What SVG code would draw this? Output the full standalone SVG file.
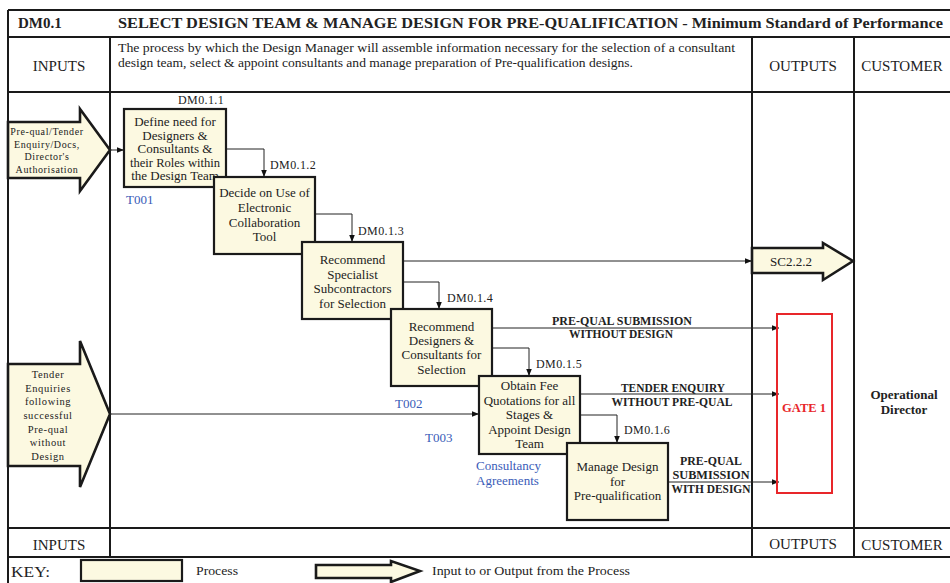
<svg xmlns="http://www.w3.org/2000/svg" width="950" height="583" viewBox="0 0 950 583">
  <defs>
    <marker id="ah" viewBox="0 0 10 10" refX="10" refY="5" markerWidth="7" markerHeight="7" markerUnits="userSpaceOnUse" orient="auto">
      <path d="M0,1 L10,5 L0,9 Z" fill="#111"/>
    </marker>
    <style>
      .frame { fill: none; stroke: #1a1a1a; stroke-width: 2; }
      .proc { fill: #fcf9e1; stroke: #1a1a1a; stroke-width: 2.2; }
      .io { fill: #fcf9e1; stroke: #1a1a1a; stroke-width: 2.6; stroke-linejoin: miter; }
      .conn { fill: none; stroke: #222; stroke-width: 1; marker-end: url(#ah); }
      .t { font-family: "Liberation Serif", "Times New Roman", serif; fill: #222; }
      .hdr { font-size: 15px; }
      .ptext { font-size: 13px; text-anchor: middle; }
      .id { font-size: 12px; letter-spacing: 0.4px; }
      .blue { font-size: 13px; fill: #3a5cb8; }
      .flow { font-size: 11.5px; font-weight: bold; text-anchor: middle; }
      .iotext { font-size: 10px; letter-spacing: 0.6px; text-anchor: middle; }
      .iotext2 { font-size: 10.5px; letter-spacing: 0.6px; text-anchor: middle; }
    </style>
  </defs>

  <rect width="950" height="583" fill="#ffffff"/>

  <!-- table frame -->
  <g id="frame">
    <line class="frame" x1="8" y1="10" x2="950" y2="10"/>
    <line class="frame" x1="8" y1="37" x2="950" y2="37"/>
    <line class="frame" x1="8" y1="92" x2="950" y2="92"/>
    <line class="frame" x1="8" y1="528" x2="950" y2="528"/>
    <line class="frame" x1="8" y1="557" x2="950" y2="557"/>
    <line class="frame" x1="8" y1="10" x2="8" y2="583"/>
    <line class="frame" x1="110" y1="37" x2="110" y2="557"/>
    <line class="frame" x1="752" y1="37" x2="752" y2="557"/>
    <line class="frame" x1="854" y1="37" x2="854" y2="557"/>
  </g>

  <!-- title and headers -->
  <g id="header">
    <text class="t" x="18" y="28" font-size="15" font-weight="bold">DM0.1</text>
    <text class="t" x="118" y="28" font-size="15" font-weight="bold" textLength="825" lengthAdjust="spacingAndGlyphs">SELECT DESIGN TEAM &amp; MANAGE DESIGN FOR PRE-QUALIFICATION - Minimum Standard of Performance</text>
    <text class="t hdr" x="59" y="71" text-anchor="middle">INPUTS</text>
    <text class="t" x="118" y="52" font-size="13" textLength="617" lengthAdjust="spacingAndGlyphs">The process by which the Design Manager will assemble information necessary for the selection of a consultant</text>
    <text class="t" x="118" y="67" font-size="13" textLength="515" lengthAdjust="spacingAndGlyphs">design team, select &amp; appoint consultants and manage preparation of Pre-qualification designs.</text>
    <text class="t hdr" x="803" y="71" text-anchor="middle">OUTPUTS</text>
    <text class="t hdr" x="902" y="71" text-anchor="middle">CUSTOMER</text>
    <text class="t hdr" x="59" y="550" text-anchor="middle">INPUTS</text>
    <text class="t hdr" x="803" y="549" text-anchor="middle">OUTPUTS</text>
    <text class="t hdr" x="902" y="550" text-anchor="middle">CUSTOMER</text>
  </g>

  <!-- inputs -->
  <g id="input1">
    <path class="io" d="M8,122 L80,122 L80,109 L110,150 L80,191 L80,178 L8,178 Z"/>
    <text class="t iotext" x="47" y="135">Pre-qual/Tender</text>
    <text class="t iotext" x="47" y="148">Enquiry/Docs,</text>
    <text class="t iotext" x="47" y="160">Director's</text>
    <text class="t iotext" x="47" y="173">Authorisation</text>
  </g>
  <g id="input2">
    <path class="io" d="M8,364 L80,364 L80,341 L110,414 L80,487 L80,466 L8,466 Z"/>
    <text class="t iotext2" x="48" y="378">Tender</text>
    <text class="t iotext2" x="48" y="392">Enquiries</text>
    <text class="t iotext2" x="48" y="405">following</text>
    <text class="t iotext2" x="48" y="419">successful</text>
    <text class="t iotext2" x="48" y="433">Pre-qual</text>
    <text class="t iotext2" x="48" y="446">without</text>
    <text class="t iotext2" x="48" y="460">Design</text>
  </g>

  <!-- connectors -->
  <g id="connectors">
    <line class="conn" x1="110" y1="150" x2="124" y2="150"/>
    <polyline class="conn" points="226,149 264,149 264,177"/>
    <polyline class="conn" points="315,214 352,214 352,242"/>
    <polyline class="conn" points="403,282 439,282 439,309"/>
    <polyline class="conn" points="492,348 529,348 529,376"/>
    <polyline class="conn" points="580,415 617,415 617,443"/>
    <line class="conn" x1="403" y1="261" x2="752" y2="261"/>
    <line class="conn" x1="492" y1="328" x2="779" y2="328"/>
    <line class="conn" x1="580" y1="394" x2="779" y2="394"/>
    <line class="conn" x1="668" y1="482" x2="779" y2="482"/>
    <line class="conn" x1="110" y1="414" x2="479" y2="414"/>
    <text class="t flow" x="622" y="325" textLength="140" lengthAdjust="spacingAndGlyphs">PRE-QUAL SUBMISSION</text>
    <text class="t flow" x="621" y="338" textLength="104" lengthAdjust="spacingAndGlyphs">WITHOUT DESIGN</text>
    <text class="t flow" x="673" y="392" textLength="104" lengthAdjust="spacingAndGlyphs">TENDER ENQUIRY</text>
    <text class="t flow" x="672" y="406" textLength="121" lengthAdjust="spacingAndGlyphs">WITHOUT PRE-QUAL</text>
    <text class="t flow" x="711" y="465" textLength="62" lengthAdjust="spacingAndGlyphs">PRE-QUAL</text>
    <text class="t flow" x="711" y="479" textLength="77" lengthAdjust="spacingAndGlyphs">SUBMISSION</text>
    <text class="t flow" x="711" y="493" textLength="79" lengthAdjust="spacingAndGlyphs">WITH DESIGN</text>
  </g>

  <!-- processes -->
  <g id="dm011">
    <rect class="proc" x="124" y="109" width="102" height="78"/>
    <text class="t id" x="178" y="104">DM0.1.1</text>
    <text class="t ptext" x="175" y="126">Define need for</text>
    <text class="t ptext" x="175" y="139.5">Designers &amp;</text>
    <text class="t ptext" x="175" y="153">Consultants &amp;</text>
    <text class="t ptext" x="175" y="166.5" textLength="90" lengthAdjust="spacingAndGlyphs">their Roles within</text>
    <text class="t ptext" x="175" y="180">the Design Team</text>
    <text class="t blue" x="126" y="204">T001</text>
  </g>
  <g id="dm012">
    <rect class="proc" x="214" y="177" width="101" height="77"/>
    <text class="t id" x="270" y="169">DM0.1.2</text>
    <text class="t ptext" x="264.5" y="197">Decide on Use of</text>
    <text class="t ptext" x="264.5" y="212">Electronic</text>
    <text class="t ptext" x="264.5" y="227">Collaboration</text>
    <text class="t ptext" x="264.5" y="241">Tool</text>
  </g>
  <g id="dm013">
    <rect class="proc" x="302" y="242" width="101" height="77"/>
    <text class="t id" x="358" y="235">DM0.1.3</text>
    <text class="t ptext" x="352.5" y="264">Recommend</text>
    <text class="t ptext" x="352.5" y="279">Specialist</text>
    <text class="t ptext" x="352.5" y="293">Subcontractors</text>
    <text class="t ptext" x="352.5" y="308">for Selection</text>
  </g>
  <g id="dm014">
    <rect class="proc" x="391" y="309" width="101" height="77"/>
    <text class="t id" x="447" y="302">DM0.1.4</text>
    <text class="t ptext" x="441.5" y="331">Recommend</text>
    <text class="t ptext" x="441.5" y="345">Designers &amp;</text>
    <text class="t ptext" x="441.5" y="359">Consultants for</text>
    <text class="t ptext" x="441.5" y="374">Selection</text>
    <text class="t blue" x="395" y="408">T002</text>
  </g>
  <g id="dm015">
    <rect class="proc" x="479" y="376" width="101" height="78"/>
    <text class="t id" x="536" y="368">DM0.1.5</text>
    <text class="t ptext" x="529.5" y="390">Obtain Fee</text>
    <text class="t ptext" x="529.5" y="405">Quotations for all</text>
    <text class="t ptext" x="529.5" y="419">Stages &amp;</text>
    <text class="t ptext" x="529.5" y="434">Appoint Design</text>
    <text class="t ptext" x="529.5" y="448">Team</text>
    <text class="t blue" x="425" y="442">T003</text>
    <text class="t blue" x="476" y="470">Consultancy</text>
    <text class="t blue" x="476" y="485">Agreements</text>
  </g>
  <g id="dm016">
    <rect class="proc" x="567" y="443" width="101" height="77"/>
    <text class="t id" x="624" y="434">DM0.1.6</text>
    <text class="t ptext" x="617.5" y="471">Manage Design</text>
    <text class="t ptext" x="617.5" y="486">for</text>
    <text class="t ptext" x="617.5" y="500">Pre-qualification</text>
  </g>

  <!-- outputs -->
  <g id="sc222">
    <path class="io" d="M752,248 L823,248 L823,243 L853,261 L823,280 L823,273 L752,273 Z"/>
    <text class="t" x="791" y="266" font-size="13" text-anchor="middle">SC2.2.2</text>
  </g>
  <g id="gate1">
    <rect x="777" y="314" width="55" height="179" fill="none" stroke="#e8262a" stroke-width="2"/>
    <text class="t" x="804" y="412" font-size="12.5" font-weight="bold" text-anchor="middle" style="fill:#e8262a">GATE 1</text>
  </g>

  <!-- customer -->
  <g id="customer">
    <text class="t" x="904" y="399" font-size="13" font-weight="bold" text-anchor="middle">Operational</text>
    <text class="t" x="904" y="414" font-size="13" font-weight="bold" text-anchor="middle">Director</text>
  </g>

  <!-- key -->
  <g id="key">
    <text class="t" x="11" y="577" font-size="15" textLength="39" lengthAdjust="spacingAndGlyphs">KEY:</text>
    <rect class="proc" x="81" y="560" width="101" height="21"/>
    <text class="t" x="196" y="575" font-size="13" textLength="42" lengthAdjust="spacingAndGlyphs">Process</text>
    <path class="io" d="M316,565 L391,565 L391,561 L420,571 L391,582 L391,578 L316,578 Z"/>
    <text class="t" x="432" y="575" font-size="13" textLength="198" lengthAdjust="spacingAndGlyphs">Input to or Output from the Process</text>
  </g>
</svg>
